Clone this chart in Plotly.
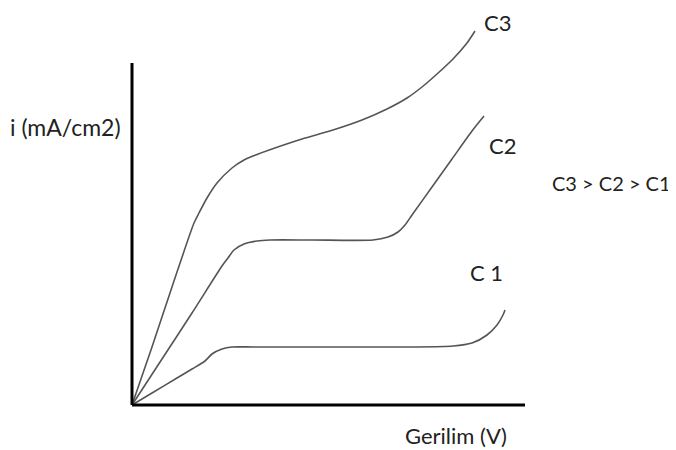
import plotly.graph_objects as go

# Curve values (voltage and current, arbitrary units)
c1_x = [0, 20, 45, 60, 73, 80, 90, 100, 121, 200, 280, 321, 340, 355, 365, 371, 373]
c1_y = [0, 12, 27, 36, 44, 51, 56, 58, 58, 58, 58, 59, 62, 70, 80, 90, 95]

c2_x = [0, 30, 60, 90, 96, 102, 112, 125, 138, 180, 241, 256, 266, 273, 280, 300, 320, 340, 352]
c2_y = [0, 46, 92, 139, 147, 155, 161, 164, 165, 165, 165, 168, 173, 180, 190, 218, 246, 274, 289]

c3_x = [0, 20, 40, 62, 67, 75, 85, 100, 112, 121, 140, 170, 201, 230, 255, 275, 290, 305, 321, 335, 343]
c3_y = [0, 58, 118, 182, 192, 207, 222, 237, 245, 249, 256, 266, 275, 285, 296, 307, 318, 331, 346, 362, 374]

axis_x_max = 393
axis_y_max = 342

curve_labels = ["C 1", "C2", "C3"]
x_title = "Gerilim (V)"
y_title = "i (mA/cm2)"
order_note = "C3 > C2 > C1"

FONT = "Lato"
TXT = "#222222"
LINE = "#555555"

fig = go.Figure()
for xs, ys in [(c1_x, c1_y), (c2_x, c2_y), (c3_x, c3_y)]:
    fig.add_trace(go.Scatter(x=xs, y=ys, mode="lines",
                             line=dict(color=LINE, width=1.6, shape="spline", smoothing=0.7),
                             hoverinfo="skip"))

# axes drawn as lines from the origin
fig.add_shape(type="line", x0=0, y0=0, x1=axis_x_max, y1=0, xref="x", yref="y",
              line=dict(color="black", width=3))
fig.add_shape(type="line", x0=0, y0=0, x1=0, y1=axis_y_max, xref="x", yref="y",
              line=dict(color="black", width=3))

anns = [
    (354, 133, curve_labels[0], "center", "middle", 22),
    (370, 260, curve_labels[1], "center", "middle", 22),
    (365, 397, curve_labels[2], "center", "top", 22),
    (540, 222, order_note, "right", "middle", 20),
    (-67, 278, y_title, "center", "middle", 23),
    (324, -30, x_title, "center", "middle", 22),
]
for ax, ay, t, xa, ya, fs in anns:
    fig.add_annotation(x=ax, y=ay, text=t, showarrow=False, xref="x", yref="y",
                       xanchor=xa, yanchor=ya, borderpad=0,
                       font=dict(family=FONT, size=fs, color=TXT))

fig.update_layout(
    width=668, height=442,
    margin=dict(l=0, r=0, t=0, b=0),
    paper_bgcolor="white", plot_bgcolor="white",
    showlegend=False,
    xaxis=dict(range=[-124, 544], showline=False, showgrid=False, zeroline=False,
               showticklabels=False, ticks="", fixedrange=True),
    yaxis=dict(range=[-45, 397], showline=False, showgrid=False, zeroline=False,
               showticklabels=False, ticks="", fixedrange=True),
)
fig.write_html("out.html")
